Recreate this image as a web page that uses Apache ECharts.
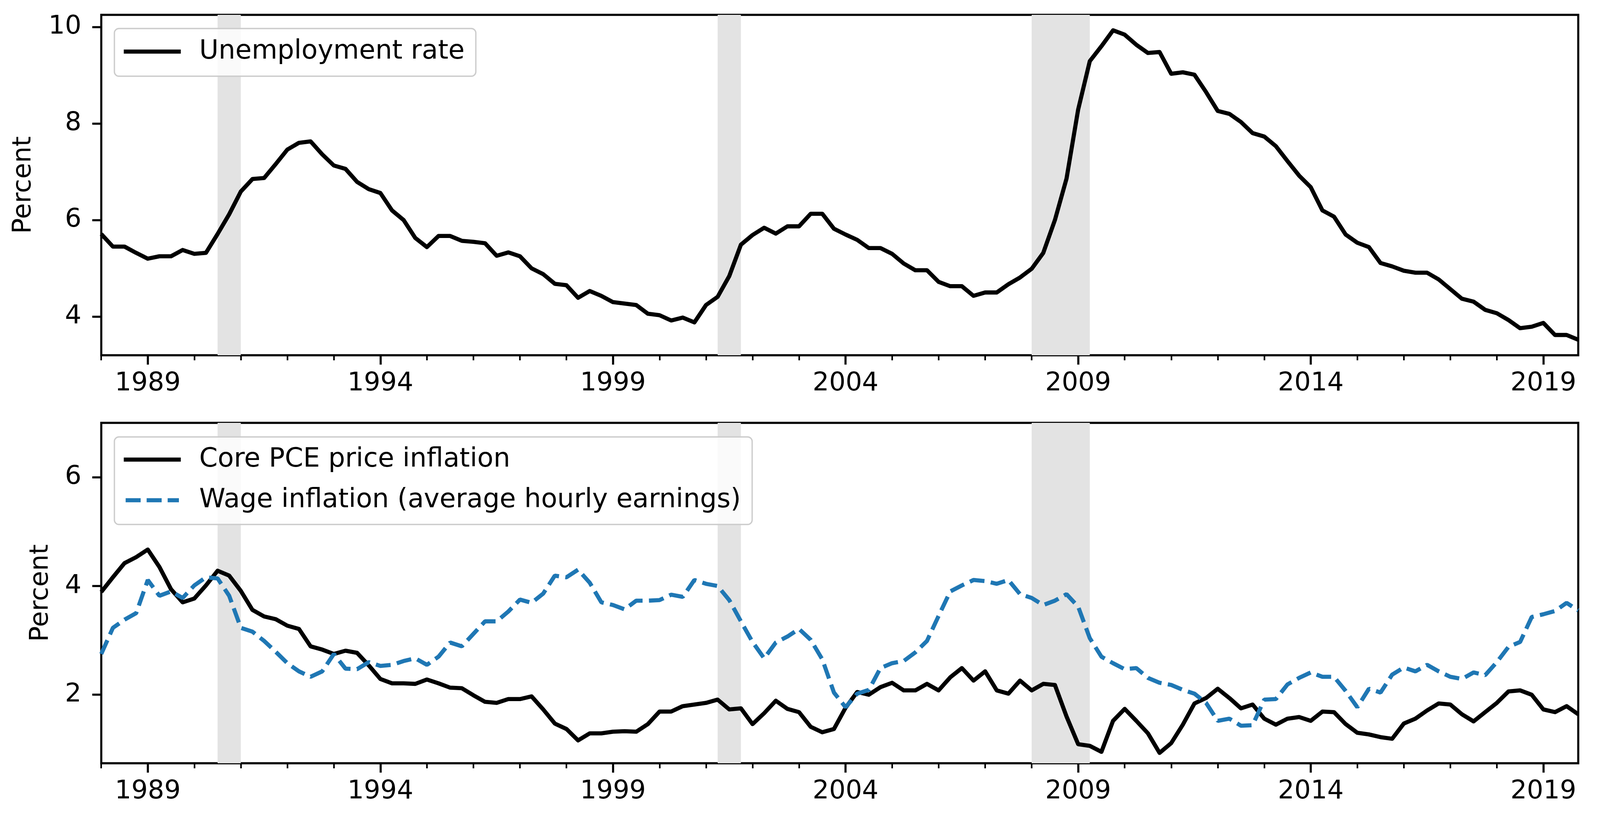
<!DOCTYPE html>
<html>
<head>
<meta charset="utf-8">
<script src="https://cdn.jsdelivr.net/npm/echarts@6/dist/echarts.min.js"></script>
<style>html,body{margin:0;padding:0;background:#fff;overflow:hidden}#c{width:100vw;height:100vh}</style>
</head>
<body>
<div id="c"></div>
<script>
// ---- data (quarterly, 1988Q1 .. 2019Q4) ----
const firstYear = 1988, lastYear = 2019;
const quarters = [];
for (let y = firstYear; y <= lastYear; y++) for (let q = 1; q <= 4; q++) quarters.push(y + 'Q' + q);

const unemployment = [
  5.71,5.45,5.45,5.32, 5.20,5.25,5.25,5.38, 5.30,5.32,5.71,6.12, 6.59,6.85,6.87,7.16,
  7.46,7.60,7.63,7.36, 7.13,7.06,6.79,6.64, 6.56,6.20,6.00,5.63, 5.44,5.67,5.67,5.57,
  5.55,5.52,5.26,5.33, 5.25,5.00,4.88,4.68, 4.65,4.39,4.53,4.43, 4.30,4.27,4.24,4.06,
  4.03,3.92,3.98,3.88, 4.24,4.41,4.84,5.49, 5.69,5.84,5.72,5.87, 5.87,6.13,6.13,5.82,
  5.70,5.59,5.42,5.42, 5.30,5.10,4.96,4.96, 4.72,4.63,4.63,4.43, 4.50,4.50,4.67,4.81,
  4.99,5.32,6.00,6.86, 8.29,9.29,9.60,9.93, 9.84,9.63,9.46,9.48, 9.03,9.06,9.01,8.65,
  8.26,8.20,8.03,7.80, 7.73,7.53,7.22,6.92, 6.68,6.20,6.07,5.70, 5.53,5.44,5.11,5.04,
  4.95,4.91,4.91,4.77, 4.57,4.37,4.31,4.14, 4.07,3.93,3.76,3.79, 3.87,3.62,3.62,3.52
];
const corePCE = [
  3.89,4.16,4.42,4.53, 4.67,4.35,3.94,3.70, 3.77,4.01,4.28,4.19, 3.91,3.56,3.44,3.39,
  3.27,3.21,2.89,2.83, 2.75,2.81,2.77,2.54, 2.29,2.21,2.21,2.20, 2.28,2.21,2.13,2.12,
  1.99,1.87,1.85,1.92, 1.92,1.97,1.73,1.47, 1.37,1.16,1.29,1.29, 1.32,1.33,1.32,1.46,
  1.69,1.69,1.79,1.82, 1.85,1.91,1.73,1.75, 1.46,1.66,1.89,1.74, 1.68,1.41,1.31,1.37,
  1.76,2.05,2.00,2.14, 2.22,2.08,2.08,2.20, 2.08,2.32,2.49,2.26, 2.43,2.08,2.02,2.26,
  2.08,2.20,2.18,1.60, 1.09,1.06,0.95,1.52, 1.74,1.52,1.29,0.93, 1.11,1.45,1.84,1.94,
  2.11,1.94,1.75,1.82, 1.56,1.45,1.56,1.59, 1.52,1.69,1.68,1.46, 1.30,1.27,1.22,1.19,
  1.47,1.56,1.71,1.84, 1.82,1.64,1.51,1.68, 1.85,2.06,2.08,2.00, 1.73,1.68,1.79,1.64
];
const wageInflation = [
  2.75,3.23,3.38,3.50, 4.11,3.82,3.90,3.78, 4.01,4.16,4.14,3.82, 3.23,3.16,2.99,2.79,
  2.58,2.43,2.33,2.43, 2.75,2.48,2.47,2.60, 2.53,2.55,2.62,2.67, 2.55,2.70,2.96,2.89,
  3.12,3.35,3.35,3.53, 3.75,3.69,3.86,4.19, 4.16,4.30,4.06,3.70, 3.65,3.57,3.73,3.73,
  3.74,3.84,3.80,4.11, 4.04,4.00,3.74,3.35, 2.97,2.67,2.96,3.07, 3.21,3.01,2.65,2.04,
  1.77,2.02,2.09,2.49, 2.58,2.62,2.78,2.99, 3.45,3.90,4.01,4.11, 4.09,4.04,4.11,3.85,
  3.78,3.65,3.73,3.85, 3.62,3.04,2.70,2.58, 2.47,2.49,2.31,2.22, 2.18,2.09,2.02,1.85,
  1.52,1.56,1.43,1.44, 1.91,1.92,2.19,2.31, 2.41,2.33,2.33,2.07, 1.77,2.11,2.04,2.37,
  2.50,2.43,2.55,2.43, 2.33,2.29,2.41,2.36, 2.60,2.88,2.97,3.43, 3.48,3.54,3.69,3.55
];
// recession periods (decimal years, quarter starts)
const recessions = [[1990.5, 1991.0], [2001.25, 2001.75], [2008.0, 2009.25]];
const xMajorTicks = [1989, 1994, 1999, 2004, 2009, 2014, 2019];
const xMinorTicks = [];
for (let y = firstYear; y <= lastYear; y++) xMinorTicks.push(y);
const yTicksTop = [4, 6, 8, 10];
const yTicksBottom = [2, 4, 6];

// ---- helpers ----
function qx(label) { return +label.slice(0, 4) + (+label.slice(5) - 1) / 4; }
function pairs(vals) { return quarters.map((q, i) => [qx(q), vals[i]]); }

const el = document.getElementById('c');
const W = el.clientWidth || window.innerWidth, H = el.clientHeight || window.innerHeight;
const sx = W / 4266, sy = H / 2111, s = Math.min(sx, sy);
const X = v => v * sx, Y = v => v * sy, S = v => v * s;

const FONT = 'DejaVu Sans';
const FS = S(69);
const LFS = S(70.5);
const SPINE = S(5.6);
const LW = S(11);
const xMin = firstYear, xMax = lastYear + 0.75;

function xAxesFor(gi) {
  return [
    { gridIndex: gi, type: 'value', min: xMin, max: xMax, position: 'bottom',
      axisLine: { show: false }, splitLine: { show: false },
      axisTick: { show: true, customValues: xMinorTicks, length: Y(13), lineStyle: { color: '#000', width: S(4.3) } },
      axisLabel: { show: false } },
    { gridIndex: gi, type: 'value', min: xMin, max: xMax, position: 'bottom',
      axisLine: { show: false }, splitLine: { show: false },
      axisTick: { show: true, customValues: xMajorTicks, length: Y(24), lineStyle: { color: '#000', width: SPINE } },
      axisLabel: { show: true, customValues: xMajorTicks, formatter: v => String(v), margin: Y(40),
        fontSize: FS, fontFamily: FONT, color: '#000' } }
  ];
}
function yAxisFor(gi, min, max, ticks, gap) {
  return { gridIndex: gi, type: 'value', min: min, max: max,
    axisLine: { show: false }, splitLine: { show: false },
    axisTick: { show: true, customValues: ticks, length: X(24), lineStyle: { color: '#000', width: SPINE } },
    axisLabel: { show: true, customValues: ticks, formatter: v => String(v), margin: X(53),
      fontSize: FS, fontFamily: FONT, color: '#000' },
    name: 'Percent', nameLocation: 'middle', nameGap: X(gap),
    nameTextStyle: { fontSize: FS, fontFamily: FONT, color: '#000' } };
}
const recessionAreas = recessions.map(r => [{ xAxis: r[0] }, { xAxis: r[1] }]);
function bandSeries(xi, yi) {
  return { type: 'line', xAxisIndex: xi, yAxisIndex: yi, data: [], z: 1, silent: true,
    markArea: { silent: true, itemStyle: { color: '#e3e3e3' }, data: recessionAreas } };
}
const solidIcon = 'path://M0,0H152V11H0Z';
const dashIcon = 'path://M0,0H40V11H0Z M56,0H96V11H56Z M112,0H142V11H112Z';
const legendCommon = {
  backgroundColor: 'rgba(255,255,255,0.8)', borderColor: '#cccccc', borderWidth: S(3.5), borderRadius: S(12),
  itemWidth: S(152), itemHeight: S(11), selectedMode: false, symbolKeepAspect: true,
  textStyle: { fontSize: LFS, fontFamily: FONT, color: '#000', padding: [0, 0, 0, S(44)] }
};

const option = {
  animation: false,
  backgroundColor: '#fff',
  grid: [
    { left: X(270), right: W - X(4208), top: Y(38), height: Y(871), show: true, borderColor: '#000', borderWidth: SPINE, backgroundColor: 'transparent' },
    { left: X(270), right: W - X(4208), top: Y(1082), height: Y(871), show: true, borderColor: '#000', borderWidth: SPINE, backgroundColor: 'transparent' }
  ],
  xAxis: [...xAxesFor(0), ...xAxesFor(1)],
  yAxis: [yAxisFor(0, 3.2, 10.25, yTicksTop, 172), yAxisFor(1, 0.74, 7, yTicksBottom, 126)],
  legend: [
    Object.assign({}, legendCommon, { left: X(305), top: Y(73), padding: [Y(25), S(30), Y(29), S(25)],
      data: [{ name: 'Unemployment rate', icon: solidIcon }] }),
    Object.assign({}, legendCommon, { left: X(305), top: Y(1118), orient: 'vertical', itemGap: Y(36),
      padding: [Y(24), S(30), Y(28), S(25)],
      data: [{ name: 'Core PCE price inflation', icon: solidIcon },
             { name: 'Wage inflation (average hourly earnings)', icon: dashIcon }] })
  ],
  series: [
    bandSeries(0, 0),
    { name: 'Unemployment rate', type: 'line', xAxisIndex: 0, yAxisIndex: 0, data: pairs(unemployment),
      symbol: 'none', showSymbol: false, z: 3, lineStyle: { color: '#000', width: LW, join: 'round' }, itemStyle: { color: '#000' } },
    bandSeries(2, 1),
    { name: 'Core PCE price inflation', type: 'line', xAxisIndex: 2, yAxisIndex: 1, data: pairs(corePCE),
      symbol: 'none', showSymbol: false, z: 3, lineStyle: { color: '#000', width: LW, join: 'round' }, itemStyle: { color: '#000' } },
    { name: 'Wage inflation (average hourly earnings)', type: 'line', xAxisIndex: 2, yAxisIndex: 1, data: pairs(wageInflation),
      symbol: 'none', showSymbol: false, z: 4, lineStyle: { color: '#1f77b4', width: LW, type: [S(40), S(17)], cap: 'butt' }, itemStyle: { color: '#1f77b4' } }
  ]
};
const chart = echarts.init(el, null, { renderer: 'canvas' });
chart.setOption(option);
</script>
</body>
</html>
